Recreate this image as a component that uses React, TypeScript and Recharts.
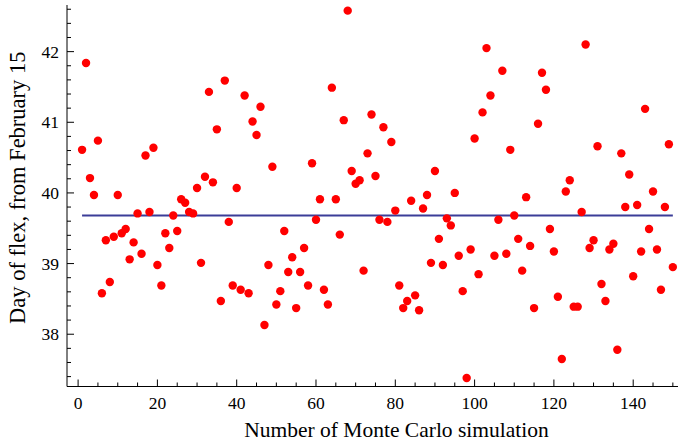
import React from 'react';
import { ScatterChart, Scatter, XAxis, YAxis, ReferenceLine, Label } from 'recharts';

// day of flex for each Monte Carlo run (run number = index + 1)
const flexDays = [
  40.61, 41.84, 40.21, 39.97, 40.74, 38.58, 39.33, 38.74, 39.38, 39.97,
  39.43, 39.49, 39.06, 39.30, 39.71, 39.14, 40.53, 39.73, 40.64, 38.98,
  38.69, 39.43, 39.22, 39.68, 39.46, 39.91, 39.86, 39.73, 39.71, 40.07,
  39.01, 40.23, 41.43, 40.15, 40.90, 38.47, 41.59, 39.59, 38.69, 40.07,
  38.63, 41.38, 38.58, 41.01, 40.82, 41.22, 38.13, 38.98, 40.37, 38.42,
  38.61, 39.46, 38.88, 39.09, 38.37, 38.88, 39.22, 38.69, 40.42, 39.62,
  39.91, 38.63, 38.42, 41.49, 39.91, 39.41, 41.03, 42.58, 40.31, 40.13,
  40.18, 38.90, 40.56, 41.11, 40.24, 39.62, 40.93, 39.59, 40.72, 39.75,
  38.69, 38.37, 38.47, 39.89, 38.55, 38.34, 39.78, 39.97, 39.01, 40.31,
  39.35, 38.98, 39.64, 39.54, 40.00, 39.11, 38.61, 37.38, 39.20, 40.77,
  38.85, 41.14, 42.05, 41.38, 39.11, 39.62, 41.73, 39.14, 40.61, 39.68,
  39.35, 38.90, 39.94, 39.25, 38.37, 40.98, 41.70, 41.46, 39.49, 39.17,
  38.53, 37.65, 40.02, 40.18, 38.39, 38.39, 39.73, 42.10, 39.22, 39.33,
  40.66, 38.71, 38.47, 39.20, 39.28, 37.78, 40.56, 39.80, 40.26, 38.82,
  39.83, 39.17, 41.19, 39.49, 40.02, 39.20, 38.63, 39.80, 40.69, 38.95,
];

const meanDay = 39.68;
const meanFrom = 1;
const meanTo = 150;

const xTicks = [0, 5, 10, 15, 20, 25, 30, 35, 40, 45, 50, 55, 60, 65, 70, 75, 80, 85, 90, 95, 100, 105, 110, 115, 120, 125, 130, 135, 140, 145, 150];
const xLabels = [0, 20, 40, 60, 80, 100, 120, 140];
const yTicks = [37.4, 37.6, 37.8, 38, 38.2, 38.4, 38.6, 38.8, 39, 39.2, 39.4, 39.6, 39.8, 40, 40.2, 40.4, 40.6, 40.8, 41, 41.2, 41.4, 41.6, 41.8, 42, 42.2, 42.4, 42.6];
const yLabels = [38, 39, 40, 41, 42];

const chartData = flexDays.map((d, i) => ({ sim: i + 1, day: d }));

const FONT = 'Liberation Serif, Times New Roman, serif';
const isXMajor = (v: number) => xLabels.includes(v);
const isYMajor = (v: number) => yLabels.some(l => Math.abs(l - v) < 1e-6);

const BottomTick = ({ x, y, payload }: any) => {
  const major = isXMajor(payload.value);
  return (
    <g>
      <line x1={x} y1={y} x2={x} y2={y - (major ? 7 : 4)} stroke="#000" />
      {major && (
        <text x={x} y={y + 22} textAnchor="middle" fontFamily={FONT} fontSize={17.5} fill="#000">
          {payload.value}
        </text>
      )}
    </g>
  );
};

const TopTick = ({ x, y, payload }: any) => (
  <line x1={x} y1={y} x2={x} y2={y + (isXMajor(payload.value) ? 7 : 4)} stroke="#000" />
);

const LeftTick = ({ x, y, payload }: any) => {
  const major = isYMajor(payload.value);
  return (
    <g>
      <line x1={x} y1={y} x2={x + (major ? 7 : 4)} y2={y} stroke="#000" />
      {major && (
        <text x={x - 8} y={y + 6} textAnchor="end" fontFamily={FONT} fontSize={17.5} fill="#000">
          {Math.round(payload.value)}
        </text>
      )}
    </g>
  );
};

const RightTick = ({ x, y, payload }: any) => (
  <line x1={x} y1={y} x2={x - (isYMajor(payload.value) ? 7 : 4)} y2={y} stroke="#000" />
);

const Dot = ({ cx, cy }: any) => <circle cx={cx} cy={cy} r={4.2} fill="#ff0000" />;

const XTitle = ({ viewBox }: any) => (
  <text
    x={viewBox.x + viewBox.width / 2 + 24}
    y={viewBox.y + viewBox.height - 7.3}
    textAnchor="middle"
    fontFamily={FONT}
    fontSize={21.5}
    fill="#000"
  >
    Number of Monte Carlo simulation
  </text>
);

const YTitle = ({ viewBox }: any) => {
  const cx = 24.5;
  const cy = viewBox.y + viewBox.height / 2 - 8;
  return (
    <text
      x={cx}
      y={cy}
      transform={`rotate(-90, ${cx}, ${cy})`}
      textAnchor="middle"
      fontFamily={FONT}
      fontSize={22.5}
      fill="#000"
    >
      Day of flex, from February 15
    </text>
  );
};

const App = () => {
  return (
    <div style={{ position: 'fixed', left: 0, top: 0, width: 679, height: 444, background: '#fff' }}>
      <ScatterChart width={679} height={444} margin={{ top: 5, right: 1, bottom: 0, left: 0 }}>
        <XAxis
          xAxisId="b"
          type="number"
          dataKey="sim"
          orientation="bottom"
          domain={[-2.8, 151.3]}
          ticks={xTicks}
          interval={0}
          height={57.5}
          tickSize={0}
          tickMargin={0}
          tickLine={false}
          tick={<BottomTick />}
          axisLine={{ stroke: '#000' }}
          allowDataOverflow
        >
          <Label content={<XTitle />} />
        </XAxis>
        <XAxis
          xAxisId="t"
          type="number"
          dataKey="sim"
          orientation="top"
          domain={[-2.8, 151.3]}
          ticks={xTicks}
          interval={0}
          height={0}
          tickSize={0}
          tickMargin={0}
          tickLine={false}
          tick={<TopTick />}
          axisLine={{ stroke: '#000' }}
          allowDataOverflow
        />
        <YAxis
          yAxisId="l"
          type="number"
          dataKey="day"
          orientation="left"
          domain={[37.26, 42.66]}
          ticks={yTicks}
          interval={0}
          width={67}
          tickSize={0}
          tickMargin={0}
          tickLine={false}
          tick={<LeftTick />}
          axisLine={{ stroke: '#000' }}
          allowDataOverflow
        >
          <Label content={<YTitle />} />
        </YAxis>
        <YAxis
          yAxisId="r"
          type="number"
          dataKey="day"
          orientation="right"
          domain={[37.26, 42.66]}
          ticks={yTicks}
          interval={0}
          width={0}
          tickSize={0}
          tickMargin={0}
          tickLine={false}
          tick={<RightTick />}
          axisLine={{ stroke: '#000' }}
          allowDataOverflow
        />
        <ReferenceLine
          xAxisId="b"
          yAxisId="l"
          segment={[{ x: meanFrom, y: meanDay }, { x: meanTo, y: meanDay }]}
          stroke="#3b3d98"
          strokeWidth={2}
        />
        <Scatter
          xAxisId="b"
          yAxisId="l"
          data={chartData}
          fill="#ff0000"
          shape={<Dot />}
          isAnimationActive={false}
        />
      </ScatterChart>
    </div>
  );
};

export default App;
